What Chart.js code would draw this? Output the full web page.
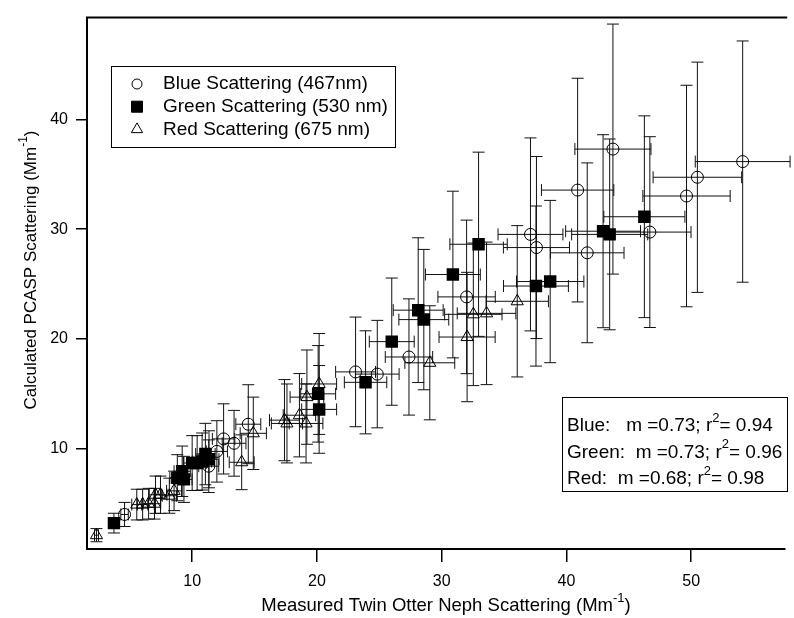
<!DOCTYPE html>
<html>
<head>
<meta charset="utf-8">
<script src="https://cdn.jsdelivr.net/npm/chart.js@4.4.1/dist/chart.umd.min.js"></script>
<style>
  html, body { margin: 0; padding: 0; background: #fff; overflow: hidden; }
</style>
</head>
<body>
<canvas id="chart" width="794" height="618"></canvas>
<script>
// axis ticks
const xTicks = [10, 20, 30, 40, 50];
const yTicks = [10, 20, 30, 40];

// Blue scattering (467nm)
const blueX    = [4.58, 11.33, 11.98, 12.52, 13.36, 14.5, 23.1, 24.84, 27.38, 32.0, 37.12, 37.6, 41.67, 40.9, 43.73, 46.69, 49.63, 50.5, 54.13];
const blueY    = [3.98, 8.38, 9.73, 10.87, 10.47, 12.21, 16.98, 16.78, 18.34, 23.82, 29.52, 28.32, 27.84, 33.56, 37.3, 29.73, 33.02, 34.73, 36.16];
const blueXErr = [0.3, 0.8, 0.85, 0.9, 0.95, 1.0, 1.6, 1.75, 1.9, 2.3, 2.6, 2.65, 2.95, 2.9, 3.05, 3.3, 3.5, 3.55, 3.8];
const blueYErr = [1.1, 2.4, 2.8, 3.2, 3.0, 3.6, 5.0, 4.9, 5.3, 7.0, 8.8, 8.3, 8.2, 10.2, 11.4, 8.7, 10.1, 10.5, 11.0];

// Green scattering (530 nm)
const greenX    = [3.73, 8.81, 9.34, 9.2, 10.0, 10.4, 10.8, 11.06, 11.35, 20.1, 20.18, 23.9, 26.0, 28.12, 28.57, 30.9, 32.96, 37.56, 38.7, 42.94, 43.47, 46.25];
const greenY    = [3.19, 7.33, 7.18, 7.92, 8.67, 8.67, 8.81, 9.49, 9.01, 14.98, 13.56, 16.03, 19.74, 22.61, 21.75, 25.86, 28.62, 24.81, 25.22, 29.81, 29.52, 31.13];
const greenXErr = [0.26, 0.6, 0.65, 0.65, 0.7, 0.73, 0.75, 0.78, 0.8, 1.4, 1.4, 1.7, 1.8, 2.0, 2.0, 2.2, 2.3, 2.6, 2.7, 3.0, 3.05, 3.25];
const greenYErr = [0.9, 2.1, 2.1, 2.3, 2.5, 2.5, 2.6, 2.8, 2.6, 4.4, 4.0, 4.7, 5.8, 6.6, 6.4, 7.6, 8.4, 7.3, 7.4, 8.8, 8.7, 9.2];

// Red scattering (675 nm)
const redX    = [2.33, 5.56, 6.03, 6.51, 6.98, 7.06, 7.46, 8.17, 8.55, 13.97, 14.9, 17.4, 17.6, 18.6, 19.13, 19.2, 20.18, 29.05, 32.04, 32.54, 33.6, 36.06];
const redY    = [2.09, 4.88, 4.88, 4.96, 4.96, 5.78, 5.78, 5.69, 6.13, 8.74, 11.38, 12.58, 12.28, 13.03, 12.28, 14.68, 15.88, 17.81, 20.16, 22.23, 22.32, 23.42];
const redXErr = [0.16, 0.4, 0.42, 0.45, 0.5, 0.5, 0.52, 0.57, 0.6, 1.0, 1.05, 1.2, 1.25, 1.3, 1.35, 1.35, 1.4, 2.0, 2.25, 2.3, 2.35, 2.5];
const redYErr = [0.6, 1.4, 1.4, 1.4, 1.4, 1.7, 1.7, 1.6, 1.8, 2.5, 3.3, 3.7, 3.6, 3.8, 3.6, 4.3, 4.6, 5.2, 5.9, 6.5, 6.5, 6.9];

const seriesNames = ["Blue Scattering (467nm)", "Green Scattering (530 nm)", "Red Scattering (675 nm)"];
const fitNames  = ["Blue:   m =", "Green:  m =", "Red:  m ="];
const fitSlopes = ["0.73", "0.73", "0.68"];
const fitR2     = ["0.94", "0.96", "0.98"];

const FONT = "'Liberation Sans', Arial, Helvetica, sans-serif";

function pts(xs, ys, xe, ye) {
  return xs.map((v, i) => ({ x: v, y: ys[i], xe: xe[i], ye: ye[i] }));
}

// text with superscript pieces: parts = [[text, isSup], ...]
function richWidth(ctx, parts, size) {
  let w = 0;
  parts.forEach(p => {
    ctx.font = (p[1] ? Math.round(size * 0.68) : size) + "px " + FONT;
    w += ctx.measureText(p[0]).width;
  });
  return w;
}
function drawRich(ctx, parts, x, y, size) {
  let cx = x;
  parts.forEach(p => {
    ctx.font = (p[1] ? Math.round(size * 0.68) : size) + "px " + FONT;
    ctx.fillText(p[0], cx, p[1] ? y - size * 0.42 : y);
    cx += ctx.measureText(p[0]).width;
  });
}

// error bars drawn through the scales, under the markers
const errorBars = {
  id: "errorBars",
  beforeDatasetsDraw(chart) {
    const { ctx, chartArea: a, scales: { x, y } } = chart;
    ctx.save();
    ctx.beginPath();
    ctx.rect(a.left, a.top, a.right - a.left + 10, a.bottom - a.top);
    ctx.clip();
    ctx.strokeStyle = "#111";
    ctx.lineWidth = 1;
    const cap = 6;
    chart.data.datasets.forEach(ds => {
      ds.data.forEach(p => {
        const px = x.getPixelForValue(p.x), py = y.getPixelForValue(p.y);
        const xl = x.getPixelForValue(p.x - p.xe), xr = x.getPixelForValue(p.x + p.xe);
        const yt = y.getPixelForValue(p.y + p.ye), yb = y.getPixelForValue(p.y - p.ye);
        ctx.beginPath();
        ctx.moveTo(px, yt); ctx.lineTo(px, yb);
        ctx.moveTo(px - cap, yt); ctx.lineTo(px + cap, yt);
        ctx.moveTo(px - cap, yb); ctx.lineTo(px + cap, yb);
        ctx.moveTo(xl, py); ctx.lineTo(xr, py);
        ctx.moveTo(xl, py - cap); ctx.lineTo(xl, py + cap);
        ctx.moveTo(xr, py - cap); ctx.lineTo(xr, py + cap);
        ctx.stroke();
      });
    });
    ctx.restore();
  }
};

// frame top, axis titles, legend box and fit box
const decorations = {
  id: "decorations",
  afterDraw(chart) {
    const { ctx, chartArea: a } = chart;
    ctx.save();
    ctx.strokeStyle = "#000";
    ctx.lineWidth = 2;
    ctx.beginPath();
    ctx.moveTo(a.left - 1, a.top);
    ctx.lineTo(a.right + 2, a.top);
    ctx.stroke();

    ctx.fillStyle = "#000";
    ctx.textBaseline = "middle";
    ctx.textAlign = "left";

    // x title
    const xt = [["Measured Twin Otter Neph Scattering (Mm", false], ["-1", true], [")", false]];
    const xw = richWidth(ctx, xt, 18.5);
    drawRich(ctx, xt, 446 - xw / 2, 606, 18.5);

    // y title
    const yt = [["Calculated PCASP Scattering (Mm", false], ["-1", true], [")", false]];
    const yw = richWidth(ctx, yt, 17);
    ctx.save();
    ctx.translate(31, 270);
    ctx.rotate(-Math.PI / 2);
    drawRich(ctx, yt, -yw / 2, 0, 17);
    ctx.restore();

    // legend
    const lx = 111, ly = 66, lw = 284, lh = 81;
    ctx.lineWidth = 1;
    ctx.strokeRect(lx + 0.5, ly + 0.5, lw, lh);
    chart.data.datasets.forEach((ds, i) => {
      const ry = ly + 18 + i * 22.7;
      ctx.save();
      ctx.fillStyle = ds.backgroundColor;
      ctx.strokeStyle = "#000";
      ctx.lineWidth = 1;
      Chart.helpers.drawPoint(ctx, {
        pointStyle: ds.pointStyle,
        radius: ds.pointStyle === "rect" ? 7.8 : (ds.pointStyle === "triangle" ? 6.5 : 5),
        borderWidth: 1, rotation: 0
      }, lx + 26, ry);
      ctx.restore();
      ctx.font = "19px " + FONT;
      ctx.fillText(seriesNames[i], lx + 52, ry);
    });

    // fit statistics box
    const bx = 562, by = 397, bw = 225, bh = 94;
    ctx.lineWidth = 1;
    ctx.strokeRect(bx + 0.5, by + 0.5, bw, bh);
    fitNames.forEach((n, i) => {
      const parts = [[n + fitSlopes[i] + "; r", false], ["2", true], ["= " + fitR2[i], false]];
      drawRich(ctx, parts, bx + 5, by + 29 + i * 26.5, 19);
    });
    ctx.restore();
  }
};

const tickFont = { family: FONT, size: 16 };

new Chart(document.getElementById("chart"), {
  type: "scatter",
  data: {
    datasets: [
      { label: seriesNames[0], data: pts(blueX, blueY, blueXErr, blueYErr),
        pointStyle: "circle", pointRadius: 6, backgroundColor: "rgba(0,0,0,0)", borderColor: "#000", borderWidth: 1 },
      { label: seriesNames[1], data: pts(greenX, greenY, greenXErr, greenYErr),
        pointStyle: "rect", pointRadius: 8.8, backgroundColor: "#000", borderColor: "#000", borderWidth: 0 },
      { label: seriesNames[2], data: pts(redX, redY, redXErr, redYErr),
        pointStyle: "triangle", pointRadius: 7, backgroundColor: "rgba(0,0,0,0)", borderColor: "#000", borderWidth: 1 }
    ]
  },
  options: {
    responsive: false,
    animation: false,
    devicePixelRatio: 1,
    layout: { padding: { top: 10, right: 0, left: 0, bottom: 0 } },
    plugins: { legend: { display: false }, tooltip: { enabled: false } },
    elements: { point: { hoverRadius: 6 } },
    scales: {
      x: {
        type: "linear", min: 1.57, max: 57.54,
        afterBuildTicks: s => { s.ticks = xTicks.map(v => ({ value: v })); },
        afterFit: s => { s.height = 69; },
        grid: { drawOnChartArea: false, drawTicks: true, tickLength: 13, color: "#000", lineWidth: 1.5 },
        border: { display: true, color: "#000", width: 2 },
        ticks: { color: "#000", font: tickFont, padding: 10, maxRotation: 0 }
      },
      y: {
        type: "linear", min: 0.83, max: 49.29,
        afterBuildTicks: s => { s.ticks = yTicks.map(v => ({ value: v })); },
        afterFit: s => { s.width = 87; },
        grid: { drawOnChartArea: false, drawTicks: true, tickLength: 11, color: "#000", lineWidth: 1.5 },
        border: { display: true, color: "#000", width: 2 },
        ticks: { color: "#000", font: tickFont, padding: 8 }
      }
    }
  },
  plugins: [errorBars, decorations]
});
</script>
</body>
</html>
